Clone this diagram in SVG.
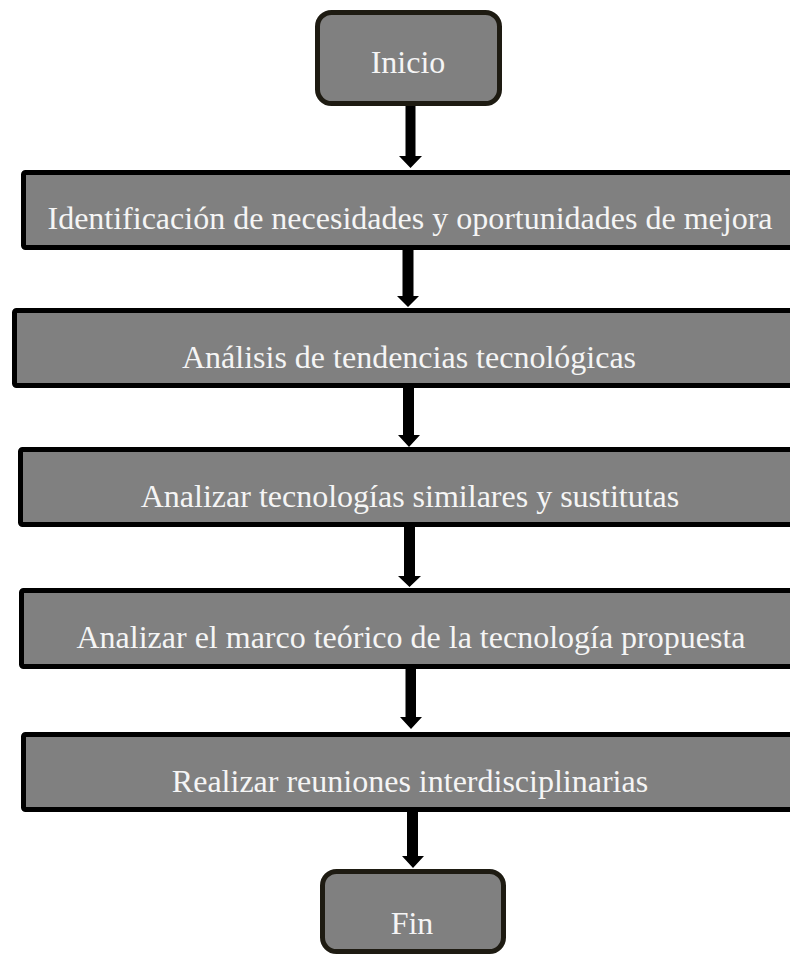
<svg xmlns="http://www.w3.org/2000/svg" width="790" height="956" viewBox="0 0 790 956">
  <style>
    .term { fill: #808080; stroke: #1e1b12; stroke-width: 5; }
    .step { fill: #808080; stroke: #000000; stroke-width: 5; }
    .label { font-family: "Liberation Serif", "Times New Roman", serif; font-size: 32px; fill: #f5f5f5; text-anchor: middle; }
    .arrow { fill: #000000; }
  </style>
  <rect width="790" height="956" fill="#ffffff"/>

  <!-- connectors: thick shaft with a triangular head -->
  <g id="connectors">
    <polygon class="arrow" points="405.5,105 415.5,105 415.5,156 422,156 410.5,168 399,156 405.5,156"/>
    <polygon class="arrow" points="402.5,250 413.5,250 413.5,296 419,296 408,307 397,296 402.5,296"/>
    <polygon class="arrow" points="403,388 414,388 414,435 420,435 409,447 398,435 403,435"/>
    <polygon class="arrow" points="404,527 415,527 415,576 421,576 409.5,587 398,576 404,576"/>
    <polygon class="arrow" points="405.5,669 416,669 416,717 422,717 411,729 400,717 405.5,717"/>
    <polygon class="arrow" points="407,812 418,812 418,856 424,856 413,868 402,856 407,856"/>
  </g>

  <g id="inicio">
    <rect class="term" x="317.5" y="12.5" width="182" height="91" rx="14"/>
    <text class="label" x="408" y="73">Inicio</text>
  </g>

  <g id="identificacion">
    <rect class="step" x="23.5" y="172.5" width="780" height="75" rx="2"/>
    <text class="label" x="410" y="229">Identificación de necesidades y oportunidades de mejora</text>
  </g>

  <g id="tendencias">
    <rect class="step" x="14.5" y="310.5" width="790" height="75" rx="2"/>
    <text class="label" x="409" y="368">Análisis de tendencias tecnológicas</text>
  </g>

  <g id="similares">
    <rect class="step" x="20.5" y="449.5" width="785" height="75" rx="2"/>
    <text class="label" x="410" y="507">Analizar tecnologías similares y sustitutas</text>
  </g>

  <g id="marco">
    <rect class="step" x="21.5" y="590.5" width="785" height="76" rx="2"/>
    <text class="label" x="411" y="648">Analizar el marco teórico de la tecnología propuesta</text>
  </g>

  <g id="reuniones">
    <rect class="step" x="23.5" y="734.5" width="785" height="75" rx="2"/>
    <text class="label" x="410" y="792">Realizar reuniones interdisciplinarias</text>
  </g>

  <g id="fin">
    <rect class="term" x="322.5" y="871.5" width="181" height="80" rx="14"/>
    <text class="label" x="412" y="934">Fin</text>
  </g>
</svg>
